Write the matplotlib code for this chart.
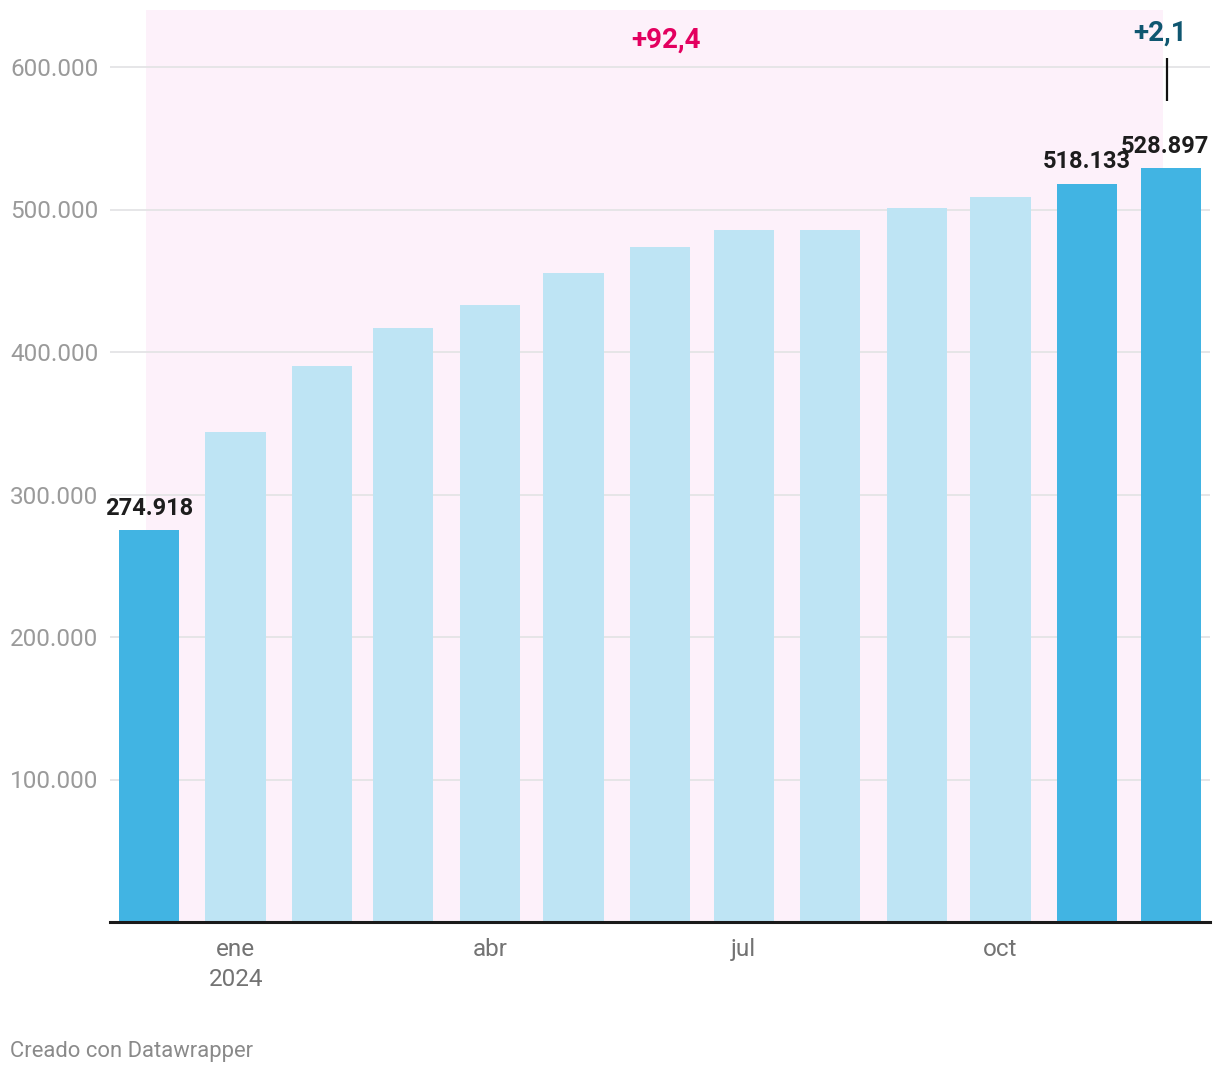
import matplotlib
matplotlib.use("Agg")
import matplotlib.pyplot as plt
import matplotlib.dates as mdates
import datetime as dt

plt.rcParams['font.family'] = ['Roboto', 'DejaVu Sans']

# ---- data ----
months = ["2023-12-01", "2024-01-01", "2024-02-01", "2024-03-01", "2024-04-01",
          "2024-05-01", "2024-06-01", "2024-07-01", "2024-08-01", "2024-09-01",
          "2024-10-01", "2024-11-01", "2024-12-01"]
values = [274918, 343900, 390200, 416800, 433000, 455400, 473700, 485600,
          485600, 501100, 508800, 518133, 528897]
highlight = [True, False, False, False, False, False, False, False, False,
             False, False, True, True]
labels_shown = {0: "274.918", 11: "518.133", 12: "528.897"}
tick_dates = ["2024-01-01", "2024-04-01", "2024-07-01", "2024-10-01"]
tick_labels = ["ene\n2024", "abr", "jul", "oct"]
yticks = [100000, 200000, 300000, 400000, 500000, 600000]
ytick_labels = ["100.000", "200.000", "300.000", "400.000", "500.000", "600.000"]
change_total = "+92,4"
change_last = "+2,1"

# ---- style ----
W, H = 1220, 1074
DPI = 100
C_DARK = "#41b4e3"
C_LIGHT = "#bee4f4"
C_PINK_BG = "#fdf1fa"
C_PINK_TXT = "#e3005f"
C_TEAL_TXT = "#0f5670"

def d(s):
    return mdates.date2num(dt.datetime.strptime(s, "%Y-%m-%d"))

xs = [d(m) for m in months]

fig = plt.figure(figsize=(W / DPI, H / DPI), dpi=DPI)
ax = fig.add_axes([110 / W, (H - 922) / H, 1100 / W, (922 - 10) / H])

x0 = xs[0] - 14.0
x1 = xs[-1] + 14.0
ax.set_xlim(x0, x1)
ax.set_ylim(0, 640000)

# highlighted period
ax.axvspan(xs[0] - 1.1, xs[-1] - 2.9, color=C_PINK_BG, zorder=0, lw=0)

# gridlines
for yv in yticks:
    ax.axhline(yv, color="#e4e4e6", lw=1.3, zorder=1)

bar_w = 21.6
colors = [C_DARK if h else C_LIGHT for h in highlight]
ax.bar(xs, values, width=bar_w, color=colors, zorder=2, lw=0)

# baseline
ax.axhline(0, color="#1a1a1a", lw=2.2, zorder=3, clip_on=False)

# value labels
offsets = {0: 0, 11: 0, 12: -6}
for i, txt in labels_shown.items():
    ax.annotate(txt, (xs[i], values[i]), xytext=(offsets[i] * 0.72, 16),
                textcoords="offset points", ha="center", va="center",
                fontsize=17, fontweight="bold", color="#1d1d1d", zorder=5)

# change annotations
ax.text(d("2024-06-03"), 619000, change_total, ha="center", va="center",
        fontsize=20, fontweight="bold", color=C_PINK_TXT, zorder=5)
ax.text(d("2024-11-27"), 623400, change_last, ha="center", va="center",
        fontsize=20, fontweight="bold", color=C_TEAL_TXT, zorder=5)
ax.plot([d("2024-11-29") + 0.6] * 2, [576000, 606300], color="#111111",
        lw=1.6, zorder=5, solid_capstyle="butt")

# axes styling
for s in ax.spines.values():
    s.set_visible(False)
ax.set_yticks(yticks)
ax.set_yticklabels(ytick_labels)
ax.tick_params(axis="y", length=0, pad=72, labelsize=17.5, labelcolor="#9a9a9a")
for lbl in ax.get_yticklabels():
    lbl.set_horizontalalignment("left")
ax.set_xticks([d(t) for t in tick_dates])
ax.set_xticklabels(tick_labels, linespacing=1.4)
ax.tick_params(axis="x", length=0, pad=11.5, labelsize=17.5, labelcolor="#737373")

fig.text(10 / W, 1 - 1052 / H, "Creado con Datawrapper", ha="left",
         va="center", fontsize=15.8, color="#8a8a8a")

fig.savefig("out.png", dpi=DPI)
